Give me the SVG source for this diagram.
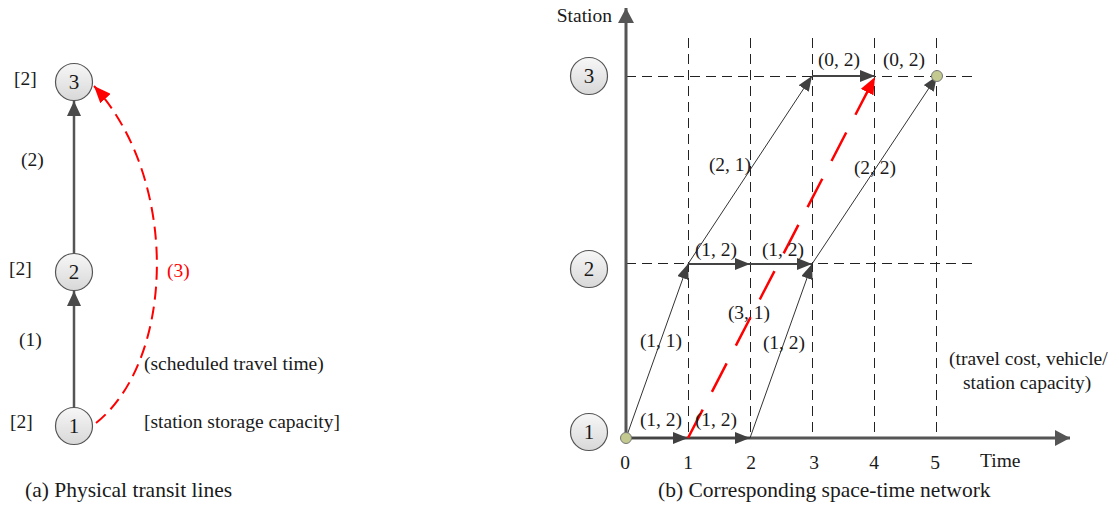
<svg xmlns="http://www.w3.org/2000/svg" width="1119" height="508" viewBox="0 0 1119 508">
<style>
text{font-family:"Liberation Serif","Times New Roman",serif;fill:#1a1a1a;font-size:19.5px}
.num{font-size:21px;text-anchor:middle}
.cap{font-size:21.5px}
.mid{text-anchor:middle}
.red{fill:#ff0000}
.node circle{fill:url(#g);stroke:#555;stroke-width:1.2}
.grid{stroke:#222;stroke-width:1;stroke-dasharray:10 6;fill:none}
.thin{stroke:#333;stroke-width:1;fill:none}
.hz{stroke:#444;stroke-width:2;fill:none}
.axis{stroke:#555;stroke-width:3;fill:none}
.dot{fill:#c3c98f;stroke:#777;stroke-width:1}
</style>
<defs>
<linearGradient id="g" x1="0" y1="0" x2="0" y2="1">
<stop offset="0" stop-color="#f7f7f7"/>
<stop offset="1" stop-color="#d8d8d8"/>
</linearGradient>
<marker id="ah" viewBox="0 0 15 12" refX="15" refY="6" markerWidth="15" markerHeight="12" markerUnits="userSpaceOnUse" orient="auto">
<path d="M0,0 L15,6 L0,12 z" fill="#404040"/>
</marker>
<marker id="axh" viewBox="0 0 15 16" refX="15" refY="8" markerWidth="15" markerHeight="16" markerUnits="userSpaceOnUse" orient="auto">
<path d="M0,0 L15,8 L0,16 z" fill="#555"/>
</marker>
<marker id="lh" viewBox="0 0 15 14" refX="15" refY="7" markerWidth="15" markerHeight="14" markerUnits="userSpaceOnUse" orient="auto">
<path d="M0,0 L15,7 L0,14 z" fill="#4a4a4a"/>
</marker>
<marker id="rh" viewBox="0 0 17 14" refX="17" refY="7" markerWidth="17" markerHeight="14" markerUnits="userSpaceOnUse" orient="auto">
<path d="M0,0 L17,7 L0,14 z" fill="#ff0000"/>
</marker>
</defs>
<rect width="1119" height="508" fill="#fff"/>

<g id="grid">
<line class="grid" x1="688.5" y1="38" x2="688.5" y2="438"/>
<line class="grid" x1="750.5" y1="38" x2="750.5" y2="438"/>
<line class="grid" x1="812.5" y1="38" x2="812.5" y2="438"/>
<line class="grid" x1="874.5" y1="38" x2="874.5" y2="438"/>
<line class="grid" x1="936.5" y1="38" x2="936.5" y2="438"/>
<line class="grid" x1="626" y1="76.5" x2="974" y2="76.5"/>
<line class="grid" x1="626" y1="263.5" x2="974" y2="263.5"/>
</g>

<g id="connectors">
<line x1="74" y1="407" x2="74" y2="291" stroke="#555" stroke-width="2.5" marker-end="url(#lh)"/>
<line x1="74" y1="254" x2="74" y2="101" stroke="#555" stroke-width="2.5" marker-end="url(#lh)"/>
<path d="M96,423 C175,360 180,180 94,86" fill="none" stroke="#ff0000" stroke-width="2" stroke-dasharray="13 7" marker-end="url(#rh)"/>
<circle cx="89" cy="429" r="1.2" fill="#ff0000"/>
<line class="axis" x1="626" y1="438" x2="626" y2="8" marker-end="url(#axh)"/>
<line class="axis" x1="626" y1="438" x2="1070" y2="438" marker-end="url(#axh)"/>
<line class="hz" x1="626" y1="438" x2="688" y2="438" marker-end="url(#ah)"/>
<line class="hz" x1="688" y1="438" x2="750" y2="438" marker-end="url(#ah)"/>
<line class="hz" x1="688" y1="264" x2="750" y2="264" marker-end="url(#ah)"/>
<line class="hz" x1="750" y1="264" x2="812" y2="264" marker-end="url(#ah)"/>
<line class="hz" x1="812" y1="76" x2="875" y2="76" marker-end="url(#ah)"/>
<line class="thin" x1="626" y1="438" x2="688" y2="264" marker-end="url(#ah)"/>
<line class="thin" x1="688" y1="264" x2="812" y2="76" marker-end="url(#ah)"/>
<line class="thin" x1="750" y1="438" x2="812" y2="264" marker-end="url(#ah)"/>
<line class="thin" x1="812" y1="264" x2="937" y2="76" marker-end="url(#ah)"/>
<line x1="688" y1="438" x2="875" y2="77" stroke="#ff0000" stroke-width="2.5" stroke-dasharray="32 20" marker-end="url(#rh)"/>
<circle class="dot" cx="626" cy="438" r="5.5"/>
<circle class="dot" cx="937" cy="76" r="5.5"/>
</g>

<g id="a-node-3" class="node"><circle cx="74" cy="82" r="18.5"/><text class="num" x="74" y="89">3</text></g>
<g id="a-node-2" class="node"><circle cx="74" cy="272" r="18.5"/><text class="num" x="74" y="279">2</text></g>
<g id="a-node-1" class="node"><circle cx="74" cy="426" r="18.5"/><text class="num" x="74" y="433">1</text></g>

<g id="b-node-3" class="node"><circle cx="589" cy="76" r="18.5"/><text class="num" x="589" y="83">3</text></g>
<g id="b-node-2" class="node"><circle cx="589" cy="269" r="18.5"/><text class="num" x="589" y="276">2</text></g>
<g id="b-node-1" class="node"><circle cx="589" cy="432" r="18.5"/><text class="num" x="589" y="439">1</text></g>

<g id="labels-a">
<text x="14" y="85">[2]</text>
<text x="9" y="275">[2]</text>
<text x="10" y="428">[2]</text>
<text x="21" y="166">(2)</text>
<text x="19" y="346">(1)</text>
<text class="red" x="167" y="277">(3)</text>
<text x="144" y="370">(scheduled travel time)</text>
<text x="144" y="428">[station storage capacity]</text>
<text class="cap" x="25" y="497">(a) Physical transit lines</text>
</g>

<g id="labels-b">
<text x="612" y="22" text-anchor="end">Station</text>
<text class="mid" x="839" y="66">(0, 2)</text>
<text class="mid" x="904" y="66">(0, 2)</text>
<text class="mid" x="730" y="171">(2, 1)</text>
<text class="mid" x="875" y="174">(2, 2)</text>
<text class="mid" x="716" y="256">(1, 2)</text>
<text class="mid" x="783" y="256">(1, 2)</text>
<text class="mid" x="749" y="319">(3, 1)</text>
<text class="mid" x="661" y="347">(1, 1)</text>
<text class="mid" x="784" y="349">(1, 2)</text>
<text class="mid" x="661" y="426">(1, 2)</text>
<text class="mid" x="716" y="426">(1, 2)</text>
<text x="949" y="365">(travel cost, vehicle/</text>
<text x="963" y="389">station capacity)</text>
<text class="mid" x="625" y="469">0</text>
<text class="mid" x="688" y="469">1</text>
<text class="mid" x="751" y="469">2</text>
<text class="mid" x="814" y="469">3</text>
<text class="mid" x="874" y="469">4</text>
<text class="mid" x="935" y="469">5</text>
<text x="980" y="467">Time</text>
<text class="cap" x="658" y="497">(b) Corresponding space-time network</text>
</g>
</svg>
